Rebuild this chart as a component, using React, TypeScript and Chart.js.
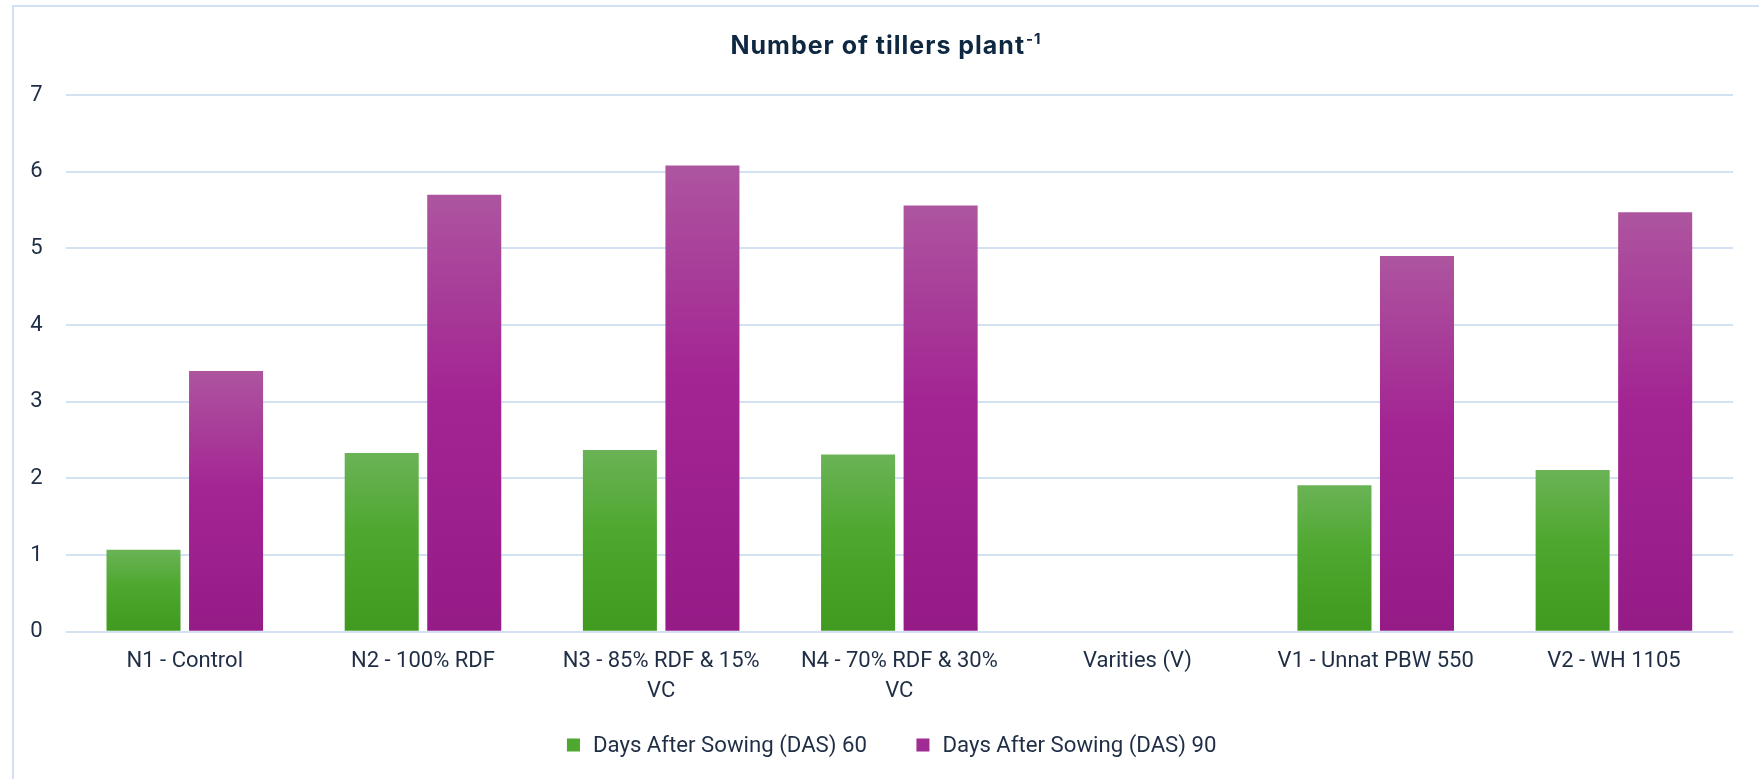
import React, { useEffect, useRef } from 'react';
import { Chart, registerables } from 'chart.js';

Chart.register(...registerables);

// ---- data ----
const categories: (string | string[])[] = [
  'N1 - Control',
  'N2 - 100% RDF',
  ['N3 - 85% RDF & 15%', 'VC'],
  ['N4 - 70% RDF & 30%', 'VC'],
  'Varities (V)',
  'V1 - Unnat PBW 550',
  'V2 - WH 1105',
];
const das60: (number | null)[] = [1.07, 2.33, 2.37, 2.31, null, 1.91, 2.11];
const das90: (number | null)[] = [3.4, 5.7, 6.08, 5.56, null, 4.9, 5.47];
const seriesNames = ['Days After Sowing (DAS) 60', 'Days After Sowing (DAS) 90'];
const yMin = 0;
const yMax = 7;
const yStep = 1;
const titleMain = 'Number of tillers plant';
const titleSup = '-1';

// ---- styles ----
const W = 1759;
const H = 779;
const TEXT = '#1f2e45';
const TITLE_COLOR = '#0e2841';
const GRID = '#d3e2f3';
const FONT = 'Roboto';
const GREEN = { top: '#6ab356', mid: '#4ea72e', bottom: '#3f9a1f', solid: '#4ea72e' };
const PURPLE = { top: '#ad559f', mid: '#a32593', bottom: '#951b87', solid: '#a02b93' };
const SERIES_COLORS = [GREEN, PURPLE];

function barGradient(c: { top: string; mid: string; bottom: string }) {
  return (ctx: any) => {
    const chart = ctx.chart;
    const area = chart.chartArea;
    const v = ctx.raw;
    if (!area || ctx.type !== 'data' || v == null || !chart.scales.y) return c.mid;
    const y0 = chart.scales.y.getPixelForValue(0);
    const y1 = chart.scales.y.getPixelForValue(v);
    if (!isFinite(y0) || !isFinite(y1) || y0 === y1) return c.mid;
    const g = chart.ctx.createLinearGradient(0, y1, 0, y0);
    g.addColorStop(0, c.top);
    g.addColorStop(0.45, c.mid);
    g.addColorStop(1, c.bottom);
    return g;
  };
}

const titlePlugin = {
  id: 'supTitle',
  afterDraw(chart: any) {
    const ctx = chart.ctx as any;
    ctx.save();
    ctx.fillStyle = TITLE_COLOR;
    ctx.textBaseline = 'alphabetic';
    ctx.textAlign = 'left';
    const mainFont = 'bold 25px Inter';
    const supFont = 'bold 15px Inter';
    ctx.letterSpacing = '1px';
    ctx.font = mainFont;
    const w1 = ctx.measureText(titleMain).width;
    ctx.font = supFont;
    const w2 = ctx.measureText(titleSup).width;
    const cx = 886;
    const base = 54;
    const x0 = cx - (w1 + 1 + w2) / 2;
    ctx.font = mainFont;
    ctx.fillText(titleMain, x0, base);
    ctx.font = supFont;
    ctx.fillText(titleSup, x0 + w1 + 1, base - 10);
    ctx.restore();
  },
};

// legend drawn below the axis labels, items taken from the datasets
const legendPlugin = {
  id: 'bottomLegend',
  afterDraw(chart: any) {
    const ctx = chart.ctx as CanvasRenderingContext2D;
    const box = 13;
    const boxGap = 13;
    const itemGap = 49.5;
    const cx = 891.7;
    const cy = 745;
    ctx.save();
    ctx.font = `22.2px ${FONT}`;
    ctx.textBaseline = 'middle';
    ctx.textAlign = 'left';
    const items = chart.data.datasets.map((d: any, i: number) => ({
      text: d.label as string,
      color: SERIES_COLORS[i].solid,
      w: ctx.measureText(d.label).width,
    }));
    const total =
      items.reduce((s: number, it: any) => s + box + boxGap + it.w, 0) + itemGap * (items.length - 1);
    let x = cx - total / 2;
    items.forEach((it: any) => {
      ctx.fillStyle = it.color;
      ctx.fillRect(x, cy - box / 2, box, box);
      ctx.fillStyle = TEXT;
      ctx.fillText(it.text, x + box + boxGap, cy + 1);
      x += box + boxGap + it.w + itemGap;
    });
    ctx.restore();
  },
};

export default function App() {
  const ref = useRef<HTMLCanvasElement | null>(null);

  useEffect(() => {
    if (!ref.current) return;
    const chart = new Chart(ref.current, {
      type: 'bar',
      data: {
        labels: categories as any,
        datasets: [
          {
            label: seriesNames[0],
            data: das60,
            backgroundColor: barGradient(GREEN) as any,
            borderWidth: 0,
            categoryPercentage: 0.693,
            barPercentage: 0.897,
          },
          {
            label: seriesNames[1],
            data: das90,
            backgroundColor: barGradient(PURPLE) as any,
            borderWidth: 0,
            categoryPercentage: 0.693,
            barPercentage: 0.897,
          },
        ],
      },
      options: {
        responsive: false,
        animation: false,
        layout: { padding: { left: 0, right: 26, top: 95, bottom: 0 } },
        plugins: {
          title: { display: false },
          tooltip: { enabled: false },
          legend: { display: false },
        },
        scales: {
          x: {
            grid: { display: false },
            border: { display: false },
            afterFit: (axis: any) => {
              axis.height = 147.3;
            },
            ticks: {
              font: { family: FONT, size: 22, lineHeight: 1.35 },
              color: TEXT,
              padding: 7,
              maxRotation: 0,
              autoSkip: false,
            },
          },
          y: {
            min: yMin,
            max: yMax,
            grid: { color: GRID, lineWidth: 2, drawTicks: false },
            border: { display: false },
            afterFit: (axis: any) => {
              axis.width = 65.7;
            },
            ticks: {
              stepSize: yStep,
              font: { family: FONT, size: 22 },
              color: TEXT,
              padding: 23,
            },
          },
        },
      },
      plugins: [titlePlugin, legendPlugin],
    });
    return () => chart.destroy();
  }, []);

  return (
    <div style={{ position: 'fixed', left: 0, top: 0, width: W, height: H, background: '#fff', overflow: 'hidden' }}>
      <div
        style={{
          position: 'absolute',
          left: 12,
          top: 5,
          right: -4,
          bottom: -4,
          borderLeft: '2px solid #d0e1f3',
          borderTop: '2px solid #d0e1f3',
        }}
      />
      <canvas ref={ref} width={W} height={H} style={{ position: 'absolute', left: 0, top: 0, width: W, height: H }} />
    </div>
  );
}
